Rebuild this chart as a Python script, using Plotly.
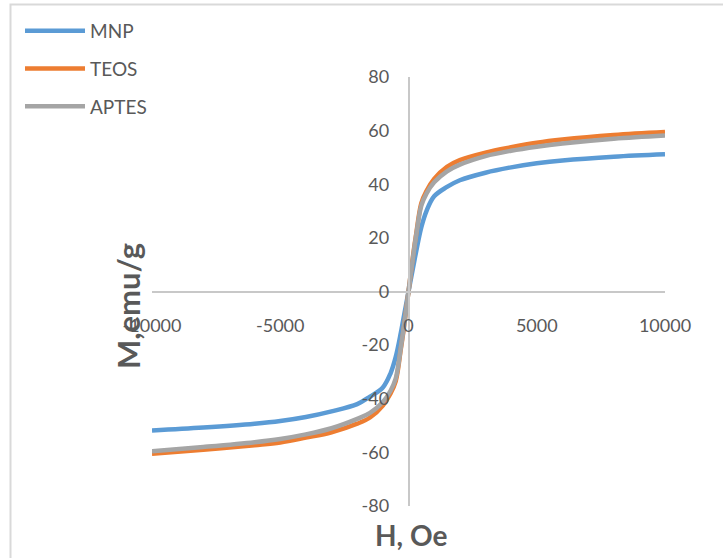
import plotly.graph_objects as go

H = [-10000, -8000, -6000, -5000, -4000, -3000, -2000, -1500, -1000, -700, -500, -300, -200, -100, 0,
     100, 200, 300, 500, 700, 1000, 1500, 2000, 3000, 4000, 5000, 6000, 8000, 10000]

MNP = [-51.8, -50.7, -49.3, -48.3, -46.8, -44.7, -42.0, -39.2, -35.8, -30.5, -24.5, -15.5, -10.3, -5.2, 0,
       5.0, 10.0, 15.0, 24.0, 30.0, 35.5, 39.0, 41.5, 44.3, 46.3, 47.8, 48.9, 50.3, 51.2]
TEOS = [-60.5, -59.0, -57.3, -56.3, -54.5, -52.5, -49.3, -47.0, -42.5, -38.0, -33.5, -21.5, -15.0, -7.5, 0,
        7.5, 15.0, 21.5, 33.0, 37.5, 42.0, 46.5, 49.0, 51.8, 53.8, 55.5, 56.7, 58.4, 59.5]
APTES = [-59.6, -58.0, -56.2, -55.0, -53.3, -51.0, -47.5, -45.3, -41.2, -37.0, -32.5, -21.0, -14.5, -7.5, 0,
         7.5, 14.5, 21.0, 32.0, 36.5, 40.7, 44.8, 47.3, 50.5, 52.5, 54.0, 55.2, 57.0, 58.2]

series = [("MNP", MNP, "#5B9BD5"), ("TEOS", TEOS, "#ED7D31"), ("APTES", APTES, "#A5A5A5")]

x_ticks = [-10000, -5000, 0, 5000, 10000]
y_ticks = [-80, -60, -40, -20, 0, 20, 40, 60, 80]

TXT = "#595959"
FONT = "Lato"

fig = go.Figure()
for name, vals, col in series:
    fig.add_trace(go.Scatter(x=H, y=vals, name=name, mode="lines", legendgroup=name,
                             line=dict(color=col, width=4.5, shape="spline", smoothing=1.0)))

fig.update_layout(
    width=723, height=558,
    margin=dict(l=152, r=58, t=77, b=52, autoexpand=False),
    paper_bgcolor="white", plot_bgcolor="white",
    font=dict(family=FONT, color=TXT, size=18),
    showlegend=True,
    legend=dict(xref="container", yref="container", x=20/723, y=1-12/558,
                xanchor="left", yanchor="top", font=dict(size=19, color=TXT, family=FONT),
                itemwidth=60, tracegroupgap=10, bgcolor="rgba(0,0,0,0)"),
    xaxis=dict(range=[-10000, 10000], tickvals=x_ticks, ticktext=[str(v) for v in x_ticks],
               showgrid=False, zeroline=False, showline=True, linecolor="#C8C8C8", linewidth=1.5,
               anchor="free", position=0.5, ticks="", ticklabelstandoff=18, automargin=False,
               tickfont=dict(size=18, color=TXT, family=FONT)),
    yaxis=dict(range=[-80, 80], tickvals=y_ticks, ticktext=[str(v) for v in y_ticks],
               showgrid=False, zeroline=False, showline=True, linecolor="#C8C8C8", linewidth=1.5,
               anchor="free", position=0.5, ticks="", ticklabelstandoff=15, automargin=False,
               tickfont=dict(size=18, color=TXT, family=FONT)),
    annotations=[
        dict(text="<b>M,emu/g</b>", xref="paper", yref="paper", x=(128-152)/513, y=(506-306)/429,
             showarrow=False, textangle=-90, font=dict(size=31, color=TXT, family=FONT),
             xanchor="center", yanchor="middle"),
        dict(text="<b>H, Oe</b>", xref="paper", yref="paper", x=(411-152)/513, y=(506-535)/429,
             showarrow=False, font=dict(size=28, color=TXT, family=FONT),
             xanchor="center", yanchor="middle"),
    ],
    shapes=[dict(type="rect", xref="paper", yref="paper",
                 x0=(10.5-152)/513, x1=(780-152)/513, y0=(506-600)/429, y1=(506-4.5)/429,
                 line=dict(color="#D9D9D9", width=2), fillcolor="rgba(0,0,0,0)", layer="below")],
)

fig.write_html("out.html", config={"displayModeBar": False},
               post_script="document.body.style.margin='0px';document.body.style.overflow='hidden';")
